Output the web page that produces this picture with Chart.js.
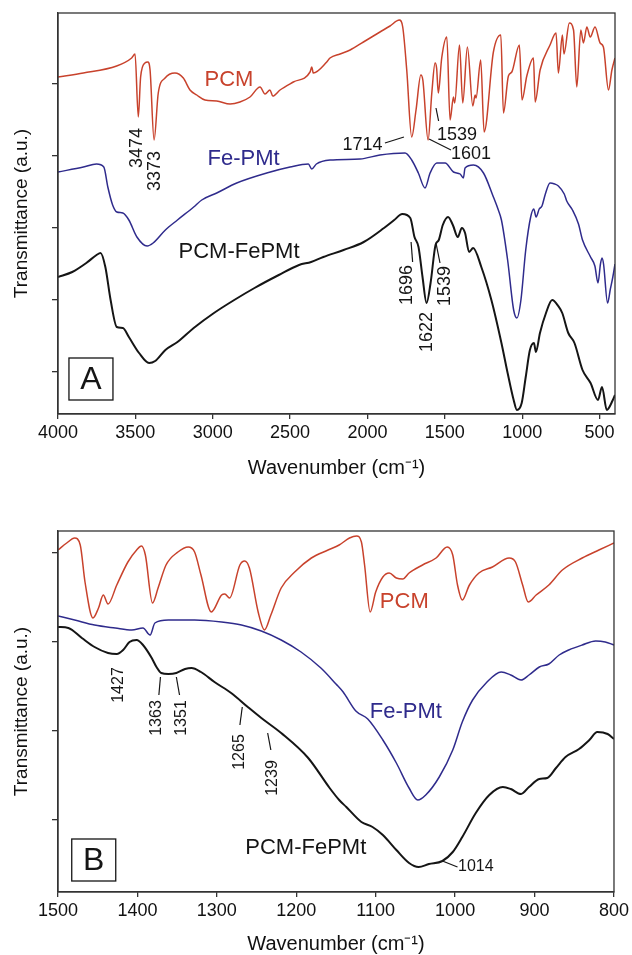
<!DOCTYPE html>
<html>
<head>
<meta charset="utf-8">
<script src="https://cdn.jsdelivr.net/npm/chart.js@4.4.1/dist/chart.umd.min.js"></script>
<style>
  html, body { margin: 0; padding: 0; background: #fff; }
  #wrap { position: relative; width: 632px; height: 955px; }
  #chartA { position: absolute; left: 0; top: 0; }
  #chartB { position: absolute; left: 0; top: 480px; }
</style>
</head>
<body>
<div id="wrap">
  <canvas id="chartA" width="632" height="480"></canvas>
  <canvas id="chartB" width="632" height="475"></canvas>
</div>
<script>
// ---- panel A : full range ----
const xTicksA = [4000, 3500, 3000, 2500, 2000, 1500, 1000, 500];
const yTicksA = [42, 114, 186, 258, 330];

const waveA_pcm = [4000, 3836, 3621, 3524, 3502, 3481, 3466, 3438, 3420, 3405, 3379, 3352, 3308, 3244, 3190, 3147, 3103, 3050, 2974, 2888, 2824, 2759, 2694, 2662, 2630, 2612, 2565, 2479, 2371, 2360, 2350, 2263, 2242, 2177, 2112, 2026, 1919, 1854, 1794, 1772, 1746, 1714, 1686, 1655, 1642, 1608, 1584, 1563, 1553, 1542, 1520, 1487, 1466, 1444, 1436, 1405, 1384, 1354, 1319, 1304, 1298, 1268, 1246, 1186, 1138, 1121, 1089, 1067, 1018, 1001, 970, 927, 916, 884, 820, 781, 766, 740, 730, 695, 668, 647, 621, 604, 582, 560, 529, 496, 475, 442, 420, 400];
const transA_pcm = [337, 341, 348, 356, 360, 297, 337, 351, 352, 344, 274, 321, 336, 341, 336, 324, 319, 314, 313, 310, 312, 317, 327, 320, 324, 318, 324, 332, 342, 347, 341, 352, 356, 360, 364, 372, 382, 388, 394, 387, 344, 277, 304, 339, 334, 274, 321, 351, 346, 321, 356, 377, 294, 317, 311, 369, 311, 367, 308, 319, 316, 354, 282, 362, 379, 301, 338, 342, 369, 314, 338, 356, 312, 344, 369, 381, 341, 379, 360, 391, 384, 327, 384, 371, 387, 377, 387, 371, 367, 324, 344, 356];

const waveA_fe = [4000, 3836, 3751, 3704, 3678, 3647, 3620, 3581, 3542, 3490, 3424, 3385, 3306, 3228, 3123, 3071, 2974, 2845, 2651, 2500, 2382, 2360, 2330, 2242, 2048, 1919, 1757, 1714, 1671, 1628, 1595, 1552, 1498, 1444, 1401, 1380, 1369, 1315, 1250, 1186, 1154, 1134, 1094, 1055, 1034, 1008, 977, 945, 925, 910, 890, 872, 852, 820, 790, 766, 728, 712, 675, 636, 610, 558, 530, 510, 494, 484, 474, 448, 430, 414, 400];
const transA_fe = [242, 247, 250, 247, 227, 209, 202, 201, 194, 177, 168, 171, 184, 194, 207, 214, 221, 231, 241, 247, 250, 245, 250, 254, 255, 259, 261, 254, 241, 226, 241, 251, 251, 242, 240, 236, 246, 249, 241, 217, 204, 194, 154, 104, 96, 114, 164, 197, 205, 197, 205, 208, 219, 231, 230, 228, 220, 213, 204, 190, 174, 157, 148, 131, 150, 156, 150, 111, 125, 137, 150];

const waveA_mix = [4000, 3908, 3817, 3751, 3725, 3694, 3660, 3620, 3581, 3542, 3476, 3411, 3372, 3306, 3228, 3123, 2992, 2861, 2730, 2573, 2442, 2364, 2285, 2154, 2024, 1893, 1827, 1775, 1723, 1696, 1670, 1644, 1618, 1592, 1560, 1539, 1513, 1479, 1448, 1416, 1390, 1369, 1343, 1317, 1264, 1199, 1134, 1094, 1055, 1034, 1003, 977, 950, 924, 911, 885, 846, 806, 767, 741, 702, 662, 610, 558, 510, 484, 453, 414, 400];
const transA_mix = [137, 142, 151, 159, 161, 147, 114, 87, 86, 77, 61, 51, 53, 64, 72, 86, 101, 114, 126, 139, 149, 152, 157, 164, 172, 186, 194, 200, 196, 177, 167, 137, 111, 131, 169, 174, 189, 197, 189, 177, 186, 181, 162, 166, 147, 114, 71, 41, 14, 4, 11, 37, 64, 71, 62, 81, 101, 114, 108, 101, 81, 71, 44, 31, 14, 27, 4, 14, 19];

// ---- panel B : 1500-800 cm-1 ----
const xTicksB = [1500, 1400, 1300, 1200, 1100, 1000, 900, 800];
const yTicksB = [72, 161, 250, 339];

const waveB_pcm = [1500, 1489, 1479, 1472, 1466, 1456, 1449, 1443, 1437, 1426, 1412, 1401, 1395, 1390, 1381, 1374, 1364, 1349, 1336, 1328, 1320, 1307, 1294, 1290, 1284, 1271, 1265, 1259, 1248, 1240, 1232, 1219, 1202, 1181, 1160, 1146, 1133, 1124, 1118, 1114, 1107, 1100, 1091, 1083, 1074, 1066, 1058, 1041, 1024, 1010, 1003, 997, 991, 982, 970, 953, 932, 924, 915, 908, 898, 882, 865, 840, 819, 800];
const transB_pcm = [342, 349, 354, 347, 310, 274, 284, 297, 288, 307, 330, 342, 346, 337, 289, 304, 327, 340, 345, 340, 317, 280, 297, 298, 294, 327, 331, 324, 280, 262, 277, 304, 320, 334, 342, 347, 354, 356, 350, 327, 280, 300, 315, 319, 314, 313, 319, 327, 334, 345, 337, 307, 292, 307, 319, 325, 334, 330, 307, 290, 297, 307, 322, 334, 342, 349];

const waveB_fe = [1500, 1479, 1454, 1428, 1407, 1393, 1384, 1378, 1361, 1328, 1294, 1269, 1244, 1219, 1194, 1169, 1150, 1141, 1125, 1110, 1091, 1074, 1058, 1047, 1037, 1020, 1003, 991, 978, 961, 942, 930, 917, 907, 894, 882, 869, 857, 840, 823, 811, 800];
const transB_fe = [276, 272, 267, 264, 262, 264, 257, 269, 272, 272, 270, 267, 261, 252, 240, 224, 208, 200, 181, 173, 152, 129, 104, 92, 97, 115, 142, 170, 192, 209, 220, 217, 212, 217, 225, 228, 237, 242, 247, 251, 250, 247];

const waveB_mix = [1500, 1487, 1470, 1454, 1437, 1426, 1418, 1410, 1401, 1393, 1382, 1376, 1370, 1361, 1351, 1340, 1332, 1320, 1303, 1282, 1261, 1244, 1219, 1185, 1158, 1146, 1137, 1118, 1104, 1091, 1074, 1058, 1046, 1033, 1016, 1003, 991, 974, 957, 940, 930, 917, 907, 894, 884, 873, 861, 844, 831, 821, 808, 800];
const transB_mix = [265, 264, 254, 245, 239, 238, 242, 250, 252, 247, 234, 225, 219, 218, 219, 223, 224, 220, 210, 199, 185, 174, 159, 134, 104, 92, 85, 70, 65, 57, 42, 29, 25, 28, 31, 40, 55, 79, 97, 105, 103, 98, 105, 113, 114, 124, 135, 143, 152, 160, 158, 153];

// ---- styles and annotations ----
const FONT = "'Liberation Sans', Arial, Helvetica, sans-serif";
const RED = "#c8422c";
const BLUE = "#2f2b8c";
const BLACK = "#151515";
const AXIS = "#333";

const labelsA = [
  { text: "PCM", x: 2895, y: 334, color: RED, size: 22 },
  { text: "Fe-PMt", x: 2801, y: 255, color: BLUE, size: 22 },
  { text: "PCM-FePMt", x: 2830, y: 162, color: BLACK, size: 22 },
  { text: "3474", x: 3486, y: 266, rot: -90, color: BLACK, size: 18 },
  { text: "3373", x: 3370, y: 243, rot: -90, color: BLACK, size: 18 },
  { text: "1714", x: 2032, y: 269, color: BLACK, size: 18 },
  { text: "1539", x: 1421, y: 279, color: BLACK, size: 18 },
  { text: "1601", x: 1331, y: 260, color: BLACK, size: 18 },
  { text: "1696", x: 1747, y: 129, rot: -90, color: BLACK, size: 18 },
  { text: "1622", x: 1615, y: 82, rot: -90, color: BLACK, size: 18 },
  { text: "1539", x: 1499, y: 128, rot: -90, color: BLACK, size: 18 },
];
const leadersA = [
  [1887, 271, 1764, 277],
  [1557, 306, 1540, 293],
  [1602, 275, 1460, 264],
  [1718, 172, 1708, 152],
  [1557, 171, 1531, 151],
];

const labelsB = [
  { text: "PCM", x: 1064, y: 290, color: RED, size: 22 },
  { text: "Fe-PMt", x: 1062, y: 180, color: BLUE, size: 22 },
  { text: "PCM-FePMt", x: 1188, y: 44, color: BLACK, size: 22 },
  { text: "1427", x: 1424, y: 207, rot: -90, color: BLACK, size: 16 },
  { text: "1363", x: 1376, y: 174, rot: -90, color: BLACK, size: 16 },
  { text: "1351", x: 1344, y: 174, rot: -90, color: BLACK, size: 16 },
  { text: "1265", x: 1271, y: 140, rot: -90, color: BLACK, size: 16 },
  { text: "1239", x: 1230, y: 114, rot: -90, color: BLACK, size: 16 },
  { text: "1014", x: 974, y: 25, color: BLACK, size: 16 },
];
const leadersB = [
  [1371, 215, 1373, 197],
  [1351, 215, 1347, 197],
  [1268, 185, 1271, 167],
  [1236, 159, 1232, 142],
  [1016, 31, 997, 25],
];

const annotate = {
  id: "annotate",
  afterDraw(chart, args, opts) {
    const { ctx, chartArea: a, scales } = chart;
    const sx = scales.x, sy = scales.y;
    ctx.save();
    ctx.strokeStyle = AXIS;
    ctx.lineWidth = 1.3;
    ctx.strokeRect(a.left, a.top, a.right - a.left, a.bottom - a.top);

    ctx.strokeStyle = BLACK;
    ctx.lineWidth = 1.2;
    opts.leaders.forEach((l) => {
      ctx.beginPath();
      ctx.moveTo(sx.getPixelForValue(l[0]), sy.getPixelForValue(l[1]));
      ctx.lineTo(sx.getPixelForValue(l[2]), sy.getPixelForValue(l[3]));
      ctx.stroke();
    });

    opts.labels.forEach((l) => {
      ctx.save();
      ctx.translate(sx.getPixelForValue(l.x), sy.getPixelForValue(l.y));
      if (l.rot) ctx.rotate((l.rot * Math.PI) / 180);
      ctx.font = `${l.size}px ${FONT}`;
      ctx.fillStyle = l.color;
      ctx.textAlign = "center";
      ctx.textBaseline = "middle";
      ctx.fillText(l.text, 0, 0);
      ctx.restore();
    });

    // panel letter in a box
    const bx = sx.getPixelForValue(opts.panel.x);
    const by = sy.getPixelForValue(opts.panel.y);
    ctx.strokeStyle = BLACK;
    ctx.lineWidth = 1.3;
    ctx.strokeRect(bx - 22, by - 21, 44, 42);
    ctx.fillStyle = BLACK;
    ctx.font = `32px ${FONT}`;
    ctx.textAlign = "center";
    ctx.textBaseline = "middle";
    ctx.fillText(opts.panel.text, bx, by + 1);
    ctx.restore();
  },
};

function series(wave, trans, color, width) {
  return {
    data: wave.map((w, i) => ({ x: w, y: trans[i] })),
    borderColor: color,
    borderWidth: width,
    pointRadius: 0,
    fill: false,
    tension: 0.4,
    cubicInterpolationMode: "monotone",
  };
}

function makeChart(id, cfg) {
  return new Chart(document.getElementById(id), {
    type: "line",
    data: { datasets: cfg.datasets },
    options: {
      responsive: false,
      animation: false,
      devicePixelRatio: 1,
      layout: { padding: { top: cfg.padTop, right: 17, left: 0, bottom: 0 } },
      plugins: {
        legend: { display: false },
        tooltip: { enabled: false },
        annotate: { labels: cfg.labels, leaders: cfg.leaders, panel: cfg.panel },
      },
      scales: {
        x: {
          type: "linear",
          reverse: true,
          min: cfg.xMin,
          max: cfg.xMax,
          afterBuildTicks: (axis) => {
            axis.ticks = cfg.xTicks.map((v) => ({ value: v }));
          },
          afterFit: (axis) => {
            axis.height = cfg.xHeight;
          },
          grid: { drawOnChartArea: false, drawTicks: true, tickLength: 5, color: AXIS, lineWidth: 1.3 },
          border: { display: true, color: AXIS, width: 1.3 },
          ticks: {
            color: "#111",
            padding: 3,
            maxRotation: 0,
            autoSkip: false,
            font: { family: FONT, size: 18 },
            callback: (v) => String(v),
          },
          title: {
            display: true,
            text: "Wavenumber (cm⁻¹)",
            color: "#111",
            font: { family: FONT, size: 20, lineHeight: 1.1 },
            padding: { top: 0, bottom: cfg.xTitlePad },
          },
        },
        y: {
          type: "linear",
          min: 0,
          max: cfg.yMax,
          afterBuildTicks: (axis) => {
            axis.ticks = cfg.yTicks.map((v) => ({ value: v }));
          },
          afterFit: (axis) => {
            axis.width = 58;
          },
          grid: { drawOnChartArea: false, drawTicks: true, tickLength: 6, color: AXIS, lineWidth: 1.3 },
          border: { display: true, color: AXIS, width: 1.3 },
          ticks: { display: false },
          title: {
            display: true,
            text: "Transmittance (a.u.)",
            color: "#111",
            font: { family: FONT, size: 19, lineHeight: 1.2 },
            padding: { top: 10, bottom: 0 },
          },
        },
      },
    },
    plugins: [annotate],
  });
}

makeChart("chartA", {
  datasets: [
    series(waveA_pcm, transA_pcm, RED, 1.5),
    series(waveA_fe, transA_fe, BLUE, 1.5),
    series(waveA_mix, transA_mix, BLACK, 2),
  ],
  xMin: 400,
  xMax: 4000,
  xTicks: xTicksA,
  yTicks: yTicksA,
  yMax: 401,
  padTop: 13,
  xHeight: 66,
  xTitlePad: 1,
  labels: labelsA,
  leaders: leadersA,
  panel: { text: "A", x: 3787, y: 35 },
});

makeChart("chartB", {
  datasets: [
    series(waveB_pcm, transB_pcm, RED, 1.5),
    series(waveB_fe, transB_fe, BLUE, 1.5),
    series(waveB_mix, transB_mix, BLACK, 2),
  ],
  xMin: 800,
  xMax: 1500,
  xTicks: xTicksB,
  yTicks: yTicksB,
  yMax: 361,
  padTop: 51,
  xHeight: 63,
  xTitlePad: 0,
  labels: labelsB,
  leaders: leadersB,
  panel: { text: "B", x: 1455, y: 32 },
});
</script>
</body>
</html>
